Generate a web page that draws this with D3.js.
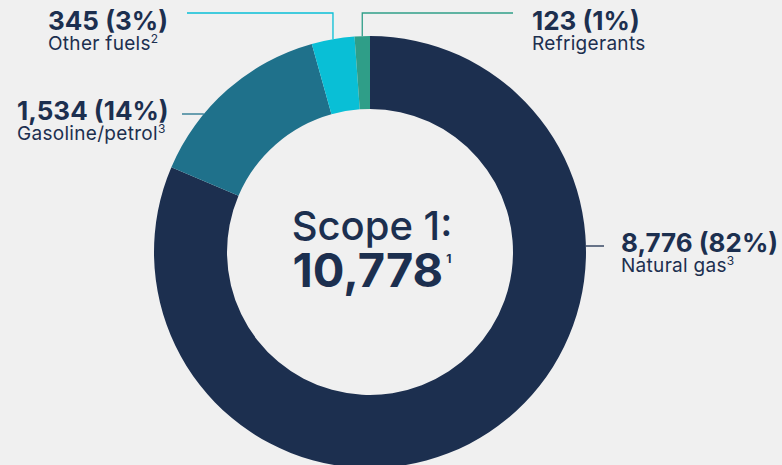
<!DOCTYPE html>
<html>
<head>
<meta charset="utf-8">
<script src="https://cdn.jsdelivr.net/npm/d3@7"></script>
<style>
  html, body { margin: 0; padding: 0; background: #f0f0f0; }
  svg { display: block; font-family: Inter, "Noto Sans", sans-serif; }
</style>
</head>
<body>
<div id="chart"></div>
<script>
"use strict";

// data
var categories = ["Natural gas", "Gasoline/petrol", "Other fuels", "Refrigerants"];
var values = [8776, 1534, 345, 123];
var shares = ["82%", "14%", "3%", "1%"];
var footnotes = ["3", "3", "2", ""];
var totalLabel = "10,778";
var totalNote = "1";
var colors = ["#1c2f4f", "#1f718b", "#09bfd6", "#2f9e88"];

var width = 782;
var height = 465;
var cx = 370, cy = 252;
var outerR = 216, innerR = 143;
var ink = "#1c2f4f";

var svg = d3.select("#chart")
  .append("svg")
    .attr("width", width)
    .attr("height", height);

svg.append("rect")
  .attr("width", width)
  .attr("height", height)
  .attr("fill", "#f0f0f0");

var g = svg.append("g")
  .attr("transform", "translate(" + cx + "," + cy + ")");

var pie = d3.pie().sort(null).value(function(d) { return d; });
var arcs = pie(values);
var arc = d3.arc().innerRadius(innerR).outerRadius(outerR);

g.selectAll("path.slice")
  .data(arcs)
  .enter()
  .append("path")
    .attr("class", "slice")
    .attr("d", arc)
    .attr("fill", function(d, i) { return colors[i]; });

// label layout: text left x, value baseline, leader style
var layout = [
  {x: 621, y: 252, side: "right", kind: "h", ly: 246, lx: 604},
  {x: 17, y: 120, side: "left", kind: "h", ly: 114, lx: 182},
  {x: 48, y: 30, side: "left", kind: "v", ly: 13, lx: 187},
  {x: 532, y: 30, side: "right", kind: "v", ly: 13, lx: 513}
];

// leader lines
arcs.forEach(function(d, i) {
  var L = layout[i];
  var pts;
  if (L.kind === "h") {
    var dy = L.ly - cy;
    var dx = Math.sqrt(outerR * outerR - dy * dy);
    var ax = L.side === "right" ? cx + dx : cx - dx;
    pts = [[ax, L.ly], [L.lx, L.ly]];
  } else {
    var mid = (d.startAngle + d.endAngle) / 2;
    var px = cx + outerR * Math.sin(mid);
    var py = cy - outerR * Math.cos(mid);
    pts = [[px, py], [px, L.ly], [L.lx, L.ly]];
  }
  svg.append("path")
    .attr("d", d3.line()(pts))
    .attr("fill", "none")
    .attr("stroke", colors[i])
    .attr("stroke-width", 1.3);
});

// labels: value line + category line in one text
arcs.forEach(function(d, i) {
  var L = layout[i];
  var t = svg.append("text")
    .attr("x", L.x)
    .attr("y", L.y)
    .attr("fill", ink);

  t.append("tspan")
    .style("font-size", "26px")
    .style("font-weight", 700)
    .text(d3.format(",")(values[i]) + " (" + shares[i] + ")");

  t.append("tspan")
    .attr("x", L.x)
    .attr("y", L.y + 20)
    .style("font-size", "19px")
    .style("letter-spacing", "0.3px")
    .style("font-weight", 400)
    .text(categories[i]);

  if (footnotes[i]) {
    t.append("tspan")
      .attr("dy", -7)
      .style("font-size", "12px")
      .style("font-weight", 400)
      .text(footnotes[i]);
  }
});

// centre
var centre = svg.append("text")
  .attr("x", cx + 2)
  .attr("y", 240)
  .attr("text-anchor", "middle")
  .attr("fill", ink);

centre.append("tspan")
  .style("font-size", "40px")
  .style("font-weight", 500)
  .text("Scope 1:");

var tot = svg.append("text")
  .attr("x", cx + 2)
  .attr("y", 287)
  .attr("text-anchor", "middle")
  .attr("fill", ink)
  .style("font-size", "47px")
  .style("font-weight", 700);
tot.append("tspan").text(totalLabel);
tot.append("tspan")
  .attr("dx", 3)
  .attr("dy", -24)
  .style("font-size", "12px")
  .text(totalNote);
</script>
</body>
</html>
